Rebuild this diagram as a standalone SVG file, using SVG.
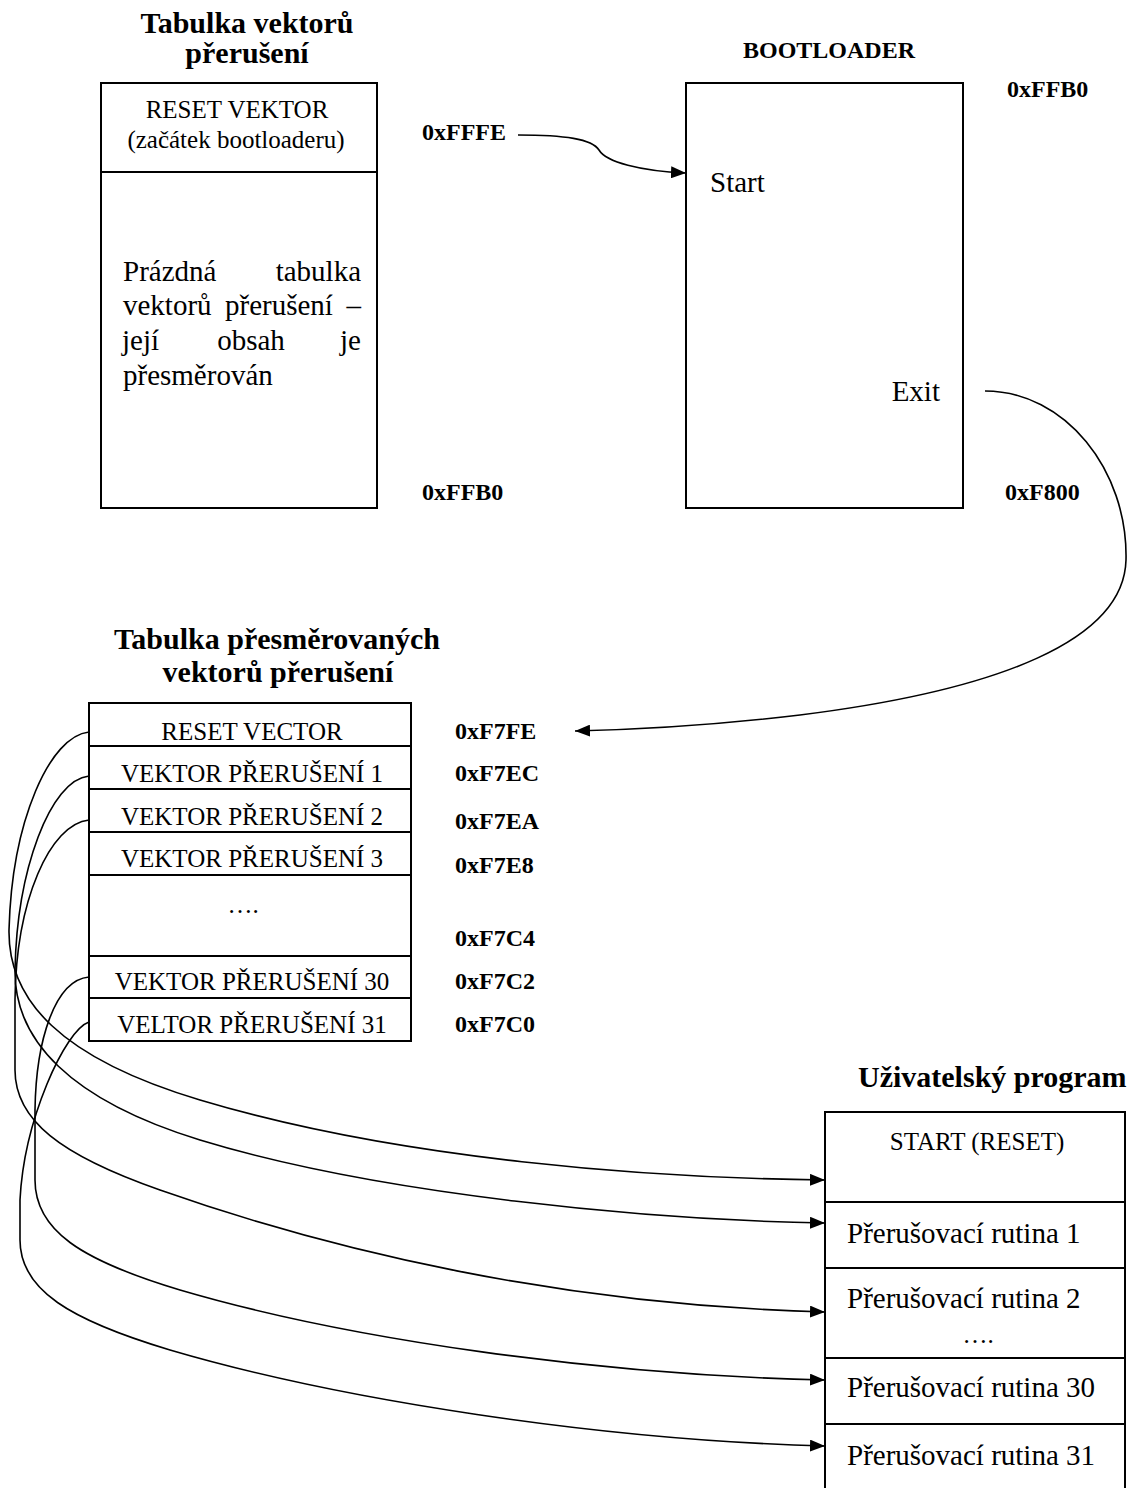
<svg xmlns="http://www.w3.org/2000/svg" width="1134" height="1488" viewBox="0 0 1134 1488">
  <style>
    .box { fill: #ffffff; stroke: #000000; stroke-width: 2; }
    .sep { stroke: #000000; stroke-width: 2; fill: none; }
    .title { font-family: "Liberation Serif", "Times New Roman", serif; font-weight: bold; font-size: 30px; fill: #000; }
    .addr { font-family: "Liberation Serif", "Times New Roman", serif; font-weight: bold; font-size: 24px; fill: #000; }
    .cell { font-family: "Liberation Serif", "Times New Roman", serif; font-size: 25px; fill: #000; }
    .big { font-family: "Liberation Serif", "Times New Roman", serif; font-size: 29px; fill: #000; }
    .mid { text-anchor: middle; }
    .end { text-anchor: end; }
    .conn { fill: none; stroke: #000000; stroke-width: 1.6; }
  </style>
  <defs>
    <marker id="arrow" markerUnits="userSpaceOnUse" markerWidth="15" markerHeight="12" viewBox="0 0 15 12" refX="15" refY="6" orient="auto">
      <path d="M0,0 L15,6 L0,12 z" fill="#000000"/>
    </marker>
  </defs>

  <rect width="1134" height="1488" fill="#ffffff"/>

  <!-- Interrupt vector table (top left) -->
  <g id="vector-table">
    <text class="title mid" x="247" y="33">Tabulka vektorů</text>
    <text class="title mid" x="247" y="63">přerušení</text>
    <rect class="box" x="101" y="83" width="276" height="425"/>
    <line class="sep" x1="101" y1="172" x2="377" y2="172"/>
    <text class="cell mid" x="237" y="118">RESET VEKTOR</text>
    <text class="cell mid" x="236" y="148">(začátek bootloaderu)</text>
    <text class="big" x="123" y="281">Prázdná</text>
    <text class="big end" x="361" y="281">tabulka</text>
    <text class="big" x="123" y="315">vektorů</text>
    <text class="big" x="225" y="315">přerušení</text>
    <text class="big end" x="361" y="315">–</text>
    <text class="big" x="122" y="350">její</text>
    <text class="big mid" x="251" y="350">obsah</text>
    <text class="big end" x="361" y="350">je</text>
    <text class="big" x="123" y="385">přesměrován</text>
    <text class="addr" x="422" y="140">0xFFFE</text>
    <text class="addr" x="422" y="500">0xFFB0</text>
  </g>

  <!-- Bootloader block (top right) -->
  <g id="bootloader">
    <text class="title mid" x="829" y="58" style="font-size:24px">BOOTLOADER</text>
    <rect class="box" x="686" y="83" width="277" height="425"/>
    <text class="big" x="710" y="192">Start</text>
    <text class="big end" x="940" y="401">Exit</text>
    <text class="addr" x="1007" y="97">0xFFB0</text>
    <text class="addr" x="1005" y="500">0xF800</text>
  </g>

  <!-- Relocated interrupt vector table (middle) -->
  <g id="relocated-table">
    <text class="title mid" x="277" y="649">Tabulka přesměrovaných</text>
    <text class="title mid" x="278" y="682">vektorů přerušení</text>
    <rect class="box" x="89" y="703" width="322" height="338"/>
    <line class="sep" x1="89" y1="746" x2="411" y2="746"/>
    <line class="sep" x1="89" y1="789" x2="411" y2="789"/>
    <line class="sep" x1="89" y1="832" x2="411" y2="832"/>
    <line class="sep" x1="89" y1="875" x2="411" y2="875"/>
    <line class="sep" x1="89" y1="956" x2="411" y2="956"/>
    <line class="sep" x1="89" y1="998" x2="411" y2="998"/>
    <text class="cell mid" x="252" y="740">RESET VECTOR</text>
    <text class="cell mid" x="252" y="782">VEKTOR PŘERUŠENÍ 1</text>
    <text class="cell mid" x="252" y="825">VEKTOR PŘERUŠENÍ 2</text>
    <text class="cell mid" x="252" y="867">VEKTOR PŘERUŠENÍ 3</text>
    <text class="cell mid" x="243" y="913">….</text>
    <text class="cell mid" x="252" y="990">VEKTOR PŘERUŠENÍ 30</text>
    <text class="cell mid" x="252" y="1033">VELTOR PŘERUŠENÍ 31</text>
    <text class="addr" x="455" y="739">0xF7FE</text>
    <text class="addr" x="455" y="781">0xF7EC</text>
    <text class="addr" x="455" y="829">0xF7EA</text>
    <text class="addr" x="455" y="873">0xF7E8</text>
    <text class="addr" x="455" y="946">0xF7C4</text>
    <text class="addr" x="455" y="989">0xF7C2</text>
    <text class="addr" x="455" y="1032">0xF7C0</text>
  </g>

  <!-- User program (bottom right) -->
  <g id="user-program">
    <text class="title" x="858" y="1087">Uživatelský program</text>
    <path class="sep" d="M825,1500 L825,1112 L1125,1112 L1125,1500"/>
    <line class="sep" x1="825" y1="1202" x2="1125" y2="1202"/>
    <line class="sep" x1="825" y1="1268" x2="1125" y2="1268"/>
    <line class="sep" x1="825" y1="1358" x2="1125" y2="1358"/>
    <line class="sep" x1="825" y1="1424" x2="1125" y2="1424"/>
    <text class="cell mid" x="977" y="1150">START (RESET)</text>
    <text class="big" x="847" y="1243">Přerušovací rutina 1</text>
    <text class="big" x="847" y="1308">Přerušovací rutina 2</text>
    <text class="cell mid" x="978" y="1343">….</text>
    <text class="big" x="847" y="1397">Přerušovací rutina 30</text>
    <text class="big" x="847" y="1465">Přerušovací rutina 31</text>
  </g>

  <!-- Connectors -->
  <g id="connectors">
    <path class="conn" marker-end="url(#arrow)" d="M518,135 C565,135 592,139 599,150 C606,162 640,171 686,173"/>
    <path class="conn" marker-end="url(#arrow)" d="M985,391 C1065,391 1128,470 1126,560 C1124,640 1000,690 800,715 C700,727 620,730 575,731"/>
    <path class="conn" marker-end="url(#arrow)" d="M89,732 C50,736 12,820 9,930 C8,1000 60,1058 200,1100 C400,1160 650,1178 825,1180"/>
    <path class="conn" marker-end="url(#arrow)" d="M89,776 C50,780 17,870 15,970 C14,1040 70,1100 200,1140 C380,1195 650,1220 825,1223"/>
    <path class="conn" marker-end="url(#arrow)" d="M89,820 C50,824 16,900 15,1000 L15,1070 C15,1120 60,1155 160,1190 C330,1250 560,1305 825,1312"/>
    <path class="conn" marker-end="url(#arrow)" d="M89,977 C55,980 36,1040 35,1110 L35,1180 C35,1230 80,1260 180,1290 C350,1340 600,1375 825,1380"/>
    <path class="conn" marker-end="url(#arrow)" d="M89,1022 C65,1030 24,1120 20,1200 L20,1240 C20,1290 70,1320 170,1350 C340,1400 600,1440 825,1446"/>
  </g>
</svg>
